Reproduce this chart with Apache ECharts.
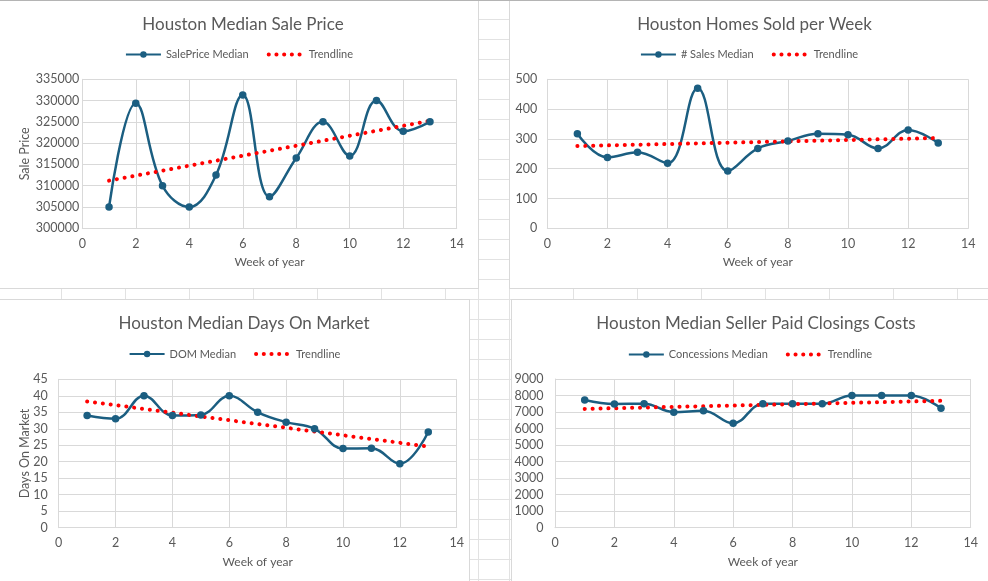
<!DOCTYPE html>
<html>
<head>
<meta charset="utf-8">
<script src="https://cdn.jsdelivr.net/npm/echarts@6/dist/echarts.min.js"></script>
<style>
  html, body { margin: 0; padding: 0; }
  body {
    width: 988px; height: 581px; position: relative; overflow: hidden;
    background-color: #ffffff;
    background-image:
      repeating-linear-gradient(to bottom, transparent 0px, transparent 19px, #e2e2e2 19px, #e2e2e2 20px),
      repeating-linear-gradient(to right, transparent 0px, transparent 61px, #e2e2e2 61px, #e2e2e2 62px, transparent 62px, transparent 64px);
  }
  .vline { position: absolute; left: 478px; top: 0; width: 1px; height: 581px; background: #e2e2e2; }
  .topline { position: absolute; left: 0; top: 0; width: 988px; height: 1px; background: #b4b4b4; z-index: 5; }
  .panel { position: absolute; background: #ffffff; box-shadow: inset 0 0 0 1px #d9d9d9; }
</style>
</head>
<body>
<div class="vline"></div>
<div class="topline"></div>
<div id="c1" class="panel" style="left:-1px; top:0px; width:480px; height:289px;"></div>
<div id="c2" class="panel" style="left:509px; top:0px; width:480px; height:289px;"></div>
<div id="c3" class="panel" style="left:-1px; top:299px; width:471px; height:283px;"></div>
<div id="c4" class="panel" style="left:511px; top:299px; width:478px; height:283px;"></div>
<script>
// ---- data ----
const weeks = [1, 2, 3, 4, 5, 6, 7, 8, 9, 10, 11, 12, 13];
const trendWeeks = [1, 13];

const salePriceMedian = [305000, 329400, 310000, 305000, 312500, 331300, 307400, 316500, 325000, 317000, 330000, 322800, 325000];
const salePriceTrend = [311200, 325250];

const salesCountMedian = [317, 238, 255, 218, 470, 192, 268, 293, 317, 314, 268, 330, 286];
const salesCountTrend = [276, 303];

const domMedian = [34, 33, 40, 34, 34.2, 40, 35, 32, 30, 24, 24.1, 19.4, 29];
const domTrend = [38.3, 24.6];

const concessionsMedian = [7730, 7490, 7500, 6990, 7080, 6320, 7500, 7500, 7500, 8000, 8000, 8000, 7230];
const concessionsTrend = [7190, 7680];

const titles = ['Houston Median Sale Price', 'Houston Homes Sold per Week', 'Houston Median Days On Market', 'Houston Median Seller Paid Closings Costs'];
const seriesNames = ['SalePrice Median', '# Sales Median', 'DOM Median', 'Concessions Median'];
const trendName = 'Trendline';
const xAxisName = 'Week of year';
const yAxisNames = ['Sale Price', '', 'Days On Market', ''];
const xTicks = { min: 0, max: 14, interval: 2 };
const yTicks = [
  { min: 300000, max: 335000, interval: 5000 },
  { min: 0, max: 500, interval: 100 },
  { min: 0, max: 45, interval: 5 },
  { min: 0, max: 9000, interval: 1000 }
];

// ---- layout / style ----
const FONT = 'Lato';
const TXT = '#595959';
const GRIDC = '#d9d9d9';
const LINEC = '#1b5e81';
const TRENDC = '#ff0000';
const layouts = [
  { titleX: 239, titleTop: 11, legendTop: 44, grid: { left: 83.3, top: 79.3, width: 374.4, height: 149 }, yMargin: 3, yNameGap: 51 },
  { titleX: 240.5, titleTop: 11, legendTop: 44, grid: { left: 38.3, top: 79.3, width: 421, height: 149 }, yMargin: 10, yNameGap: 40 },
  { titleX: 240, titleTop: 11.5, legendTop: 44.5, grid: { left: 59.7, top: 80.3, width: 398, height: 148.4 }, yMargin: 11, yNameGap: 27 },
  { titleX: 240, titleTop: 11.5, legendTop: 45, grid: { left: 44, top: 80, width: 415.7, height: 148.7 }, yMargin: 11.5, yNameGap: 40 }
];
const valuesList = [salePriceMedian, salesCountMedian, domMedian, concessionsMedian];
const trendList = [salePriceTrend, salesCountTrend, domTrend, concessionsTrend];

function build(i) {
  const L = layouts[i];
  const yt = yTicks[i];
  return {
    animation: false,
    textStyle: { fontFamily: FONT },
    title: {
      text: titles[i], left: L.titleX, top: L.titleTop, textAlign: 'center',
      textStyle: { fontFamily: FONT, fontSize: 17, fontWeight: 'normal', color: TXT }
    },
    legend: {
      top: L.legendTop, left: 'center', itemWidth: 35, itemHeight: 8, itemGap: 18,
      textStyle: { fontFamily: FONT, fontSize: 11, color: TXT },
      data: [
        { name: seriesNames[i] },
        {
          name: trendName,
          itemStyle: { opacity: 0 },
          lineStyle: { color: TRENDC, width: 4, type: [0.1, 7.6], cap: 'round' }
        }
      ]
    },
    grid: L.grid,
    xAxis: {
      type: 'value', min: xTicks.min, max: xTicks.max, interval: xTicks.interval,
      name: xAxisName, nameLocation: 'middle', nameGap: 28, nameMoveOverlap: false,
      nameTextStyle: { fontFamily: FONT, fontSize: 12, color: TXT },
      axisLine: { show: true, lineStyle: { color: GRIDC } },
      axisTick: { show: false },
      axisLabel: { fontFamily: FONT, fontSize: 12.5, color: TXT, margin: 9, formatter: v => String(v) },
      splitLine: { show: true, lineStyle: { color: GRIDC } }
    },
    yAxis: {
      type: 'value', min: yt.min, max: yt.max, interval: yt.interval,
      name: yAxisNames[i], nameLocation: 'middle', nameGap: L.yNameGap, nameMoveOverlap: false,
      nameTextStyle: { fontFamily: FONT, fontSize: 12.5, color: TXT },
      axisLine: { show: true, lineStyle: { color: GRIDC } },
      axisTick: { show: false },
      axisLabel: { fontFamily: FONT, fontSize: 12.5, color: TXT, margin: L.yMargin, formatter: v => String(v) },
      splitLine: { show: true, lineStyle: { color: GRIDC } }
    },
    series: [
      {
        name: seriesNames[i], type: 'line', smooth: 0.4,
        data: weeks.map((w, k) => [w, valuesList[i][k]]),
        symbol: 'circle', symbolSize: 7.5,
        lineStyle: { color: LINEC, width: 2.5 },
        itemStyle: { color: LINEC }
      },
      {
        name: trendName, type: 'line',
        data: trendWeeks.map((w, k) => [w, trendList[i][k]]),
        symbol: 'none',
        lineStyle: { color: TRENDC, width: 4, type: [0.1, 7.8], cap: 'round' },
        itemStyle: { color: TRENDC },
        z: 3
      }
    ]
  };
}

['c1', 'c2', 'c3', 'c4'].forEach((id, i) => {
  const chart = echarts.init(document.getElementById(id), null, { renderer: 'canvas' });
  chart.setOption(build(i));
});
</script>
</body>
</html>
